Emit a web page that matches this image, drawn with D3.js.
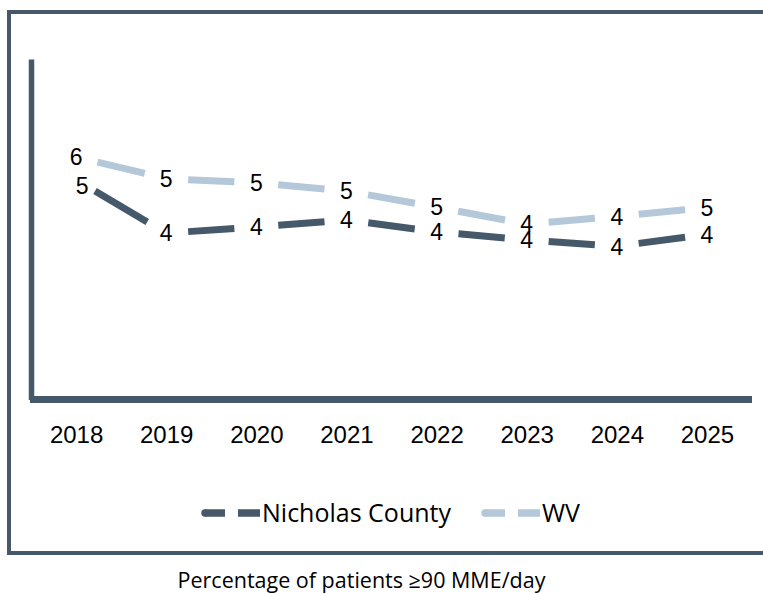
<!DOCTYPE html>
<html>
<head>
<meta charset="utf-8">
<script src="https://cdn.jsdelivr.net/npm/d3@7"></script>
<style>
  body { margin: 0; background: #fff; }
  svg { display: block; }
</style>
</head>
<body>
<svg id="chart"></svg>
<script>
// chart data
var years = ["2018", "2019", "2020", "2021", "2022", "2023", "2024", "2025"];
var nicholas = [5.16, 3.91, 4.05, 4.22, 3.94, 3.75, 3.60, 3.88];
var wv = [5.70, 5.19, 5.09, 4.90, 4.52, 4.12, 4.30, 4.51];
var seriesNames = ["Nicholas County", "WV"];
var chartTitle = "Percentage of patients \u226590 MME/day";

var width = 763;
var height = 593;
var dark = "#46596b";
var light = "#b5c8da";
var gap = 22;

var svg = d3.select("#chart")
  .attr("width", width)
  .attr("height", height);

svg.append("rect")
  .attr("width", width).attr("height", height)
  .attr("fill", "#fff");

// outer frame (runs off the right edge)
svg.append("path")
  .attr("d", "M780,12H9V553H780")
  .attr("fill", "none")
  .attr("stroke", dark)
  .attr("stroke-width", 4);

var xScale = d3.scalePoint().domain(years).range([31, 752]).padding(0.5);
var yScale = d3.scaleLinear().domain([0, 8]).range([399.5, 59]);

// axes
var xAxis = svg.append("g")
  .attr("transform", "translate(0,399.5)")
  .call(d3.axisBottom(xScale).tickSize(0).tickPadding(26));
xAxis.select(".domain")
  .attr("stroke", dark)
  .attr("stroke-width", 7)
  .attr("d", "M30,0H752");
xAxis.selectAll("text")
  .attr("font-family", "Liberation Sans, Arial, sans-serif")
  .attr("font-size", 24)
  .attr("fill", "#000");

var yAxis = svg.append("g")
  .attr("transform", "translate(31,0)")
  .call(d3.axisLeft(yScale).tickValues([]).tickSizeOuter(0));
yAxis.select(".domain")
  .attr("stroke", dark)
  .attr("stroke-width", 5.5);

var series = [
  { name: seriesNames[1], values: wv, color: light },
  { name: seriesNames[0], values: nicholas, color: dark }
];

// each segment is one dash with a gap round every point
function segments(values) {
  var out = [];
  for (var i = 0; i < values.length - 1; i++) {
    var x1 = xScale(years[i]), y1 = yScale(values[i]);
    var x2 = xScale(years[i + 1]), y2 = yScale(values[i + 1]);
    var len = Math.hypot(x2 - x1, y2 - y1);
    var ux = (x2 - x1) / len, uy = (y2 - y1) / len;
    out.push([[x1 + ux * gap, y1 + uy * gap], [x2 - ux * gap, y2 - uy * gap]]);
  }
  return out;
}

var line = d3.line();

series.forEach(function(s) {
  svg.append("g")
    .selectAll("path")
    .data(segments(s.values))
    .enter()
    .append("path")
    .attr("d", line)
    .attr("fill", "none")
    .attr("stroke", s.color)
    .attr("stroke-width", 7)
    .attr("stroke-linecap", "butt");
});

// data labels
var fmt = d3.format(".0f");
series.forEach(function(s) {
  svg.append("g")
    .selectAll("text")
    .data(s.values)
    .enter()
    .append("text")
    .attr("x", function(d, i) {
      // nudge the 2018 county label off the WV one
      return xScale(years[i]) + (s.name === seriesNames[0] && i === 0 ? 6 : 0);
    })
    .attr("y", function(d, i) {
      return yScale(d) + (s.name === seriesNames[0] && i === 0 ? 6 : 0);
    })
    .attr("dy", "0.36em")
    .attr("text-anchor", "middle")
    .attr("font-family", "Liberation Sans, Arial, sans-serif")
    .attr("font-size", 23)
    .attr("fill", "#000")
    .text(function(d) { return fmt(d); });
});

// legend
var legend = [
  { name: seriesNames[0], color: dark, x: 202 },
  { name: seriesNames[1], color: light, x: 482 }
];
var lg = svg.append("g").selectAll("g")
  .data(legend)
  .enter()
  .append("g")
  .attr("transform", function(d) { return "translate(" + d.x + ",513)"; });
lg.append("path")
  .attr("d", "M3,0H23M36,0H58")
  .attr("stroke", function(d) { return d.color; })
  .attr("stroke-width", 7.5)
  .attr("stroke-linecap", "butt");
lg.append("circle")
  .attr("cx", 3).attr("r", 3.75)
  .attr("fill", function(d) { return d.color; });
lg.append("text")
  .attr("x", 60)
  .attr("dy", "0.36em")
  .attr("font-family", "Open Sans, sans-serif")
  .attr("font-size", 25)
  .attr("fill", "#000")
  .text(function(d) { return d.name; });

svg.append("text")
  .attr("x", 361.5)
  .attr("y", 588)
  .attr("text-anchor", "middle")
  .attr("font-family", "Open Sans, sans-serif")
  .attr("font-size", 21.5)
  .attr("fill", "#000")
  .text(chartTitle);
</script>
</body>
</html>
